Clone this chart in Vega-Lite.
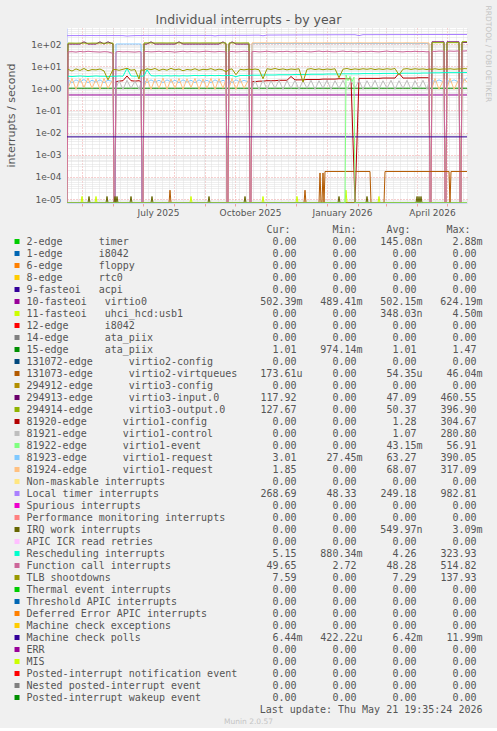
{
  "$schema": "https://vega.github.io/schema/vega-lite/v6.json",
  "background": "#f0f0f0",
  "padding": {"left": 5, "top": 5, "right": 5, "bottom": 0},
  "spacing": 6.5,
  "config": {
    "view": {"stroke": null},
    "axis": {"labelFont": "DejaVu Sans", "titleFont": "DejaVu Sans"},
    "text": {"font": "DejaVu Sans Mono", "fontSize": 10, "color": "#555555", "baseline": "middle"}
  },
  "datasets": {
    "main": [
      {"t":"2025-04-16","LOC":238,"i10":0.5,"i15":1.01,"MCP":0.0064,"CAL":0,"i294913":0,"i294914":0,"i81920":0,"i81921":0,"i81923":0,"i81924":0},
      {"t":"2025-04-17","LOC":238,"CAL":44,"TLB":7.2,"RES":3.5,"i294913":100,"i294914":110,"i81923":2.4,"i81924":1.0},
      {"t":"2025-04-21","LOC":241,"CAL":45,"TLB":6.0,"RES":3.4,"i294913":100,"i294914":110,"i81923":1.8,"i81924":2.8},
      {"t":"2025-04-25","LOC":240,"CAL":43,"TLB":7.5,"RES":3.5,"i294913":100,"i294914":109,"i81923":2.4,"i81924":0.9},
      {"t":"2025-04-29","LOC":242,"CAL":46,"TLB":6.4,"RES":3.6,"i294913":100,"i294914":110,"i81923":1.9,"i81924":2.7},
      {"t":"2025-05-03","LOC":239,"CAL":44,"TLB":7.8,"RES":3.5,"i294913":125,"i294914":110,"i81923":2.5,"i81924":1.1},
      {"t":"2025-05-07","LOC":241,"CAL":47,"TLB":6.2,"RES":3.4,"i294913":100,"i294914":108,"i81923":1.8,"i81924":2.9},
      {"t":"2025-05-11","LOC":243,"CAL":45,"TLB":7.0,"RES":3.5,"i294913":100,"i294914":110,"i81923":2.3,"i81924":1.0},
      {"t":"2025-05-15","LOC":240,"CAL":44,"TLB":6.8,"RES":3.6,"i294913":100,"i294914":110,"i81923":1.9,"i81924":2.6},
      {"t":"2025-05-19","LOC":242,"CAL":43,"TLB":7.4,"RES":3.5,"i294913":125,"i294914":110,"i81923":2.4,"i81924":0.9},
      {"t":"2025-05-23","LOC":241,"CAL":45,"TLB":6.1,"RES":3.5,"i294913":100,"i294914":109,"i81923":1.8,"i81924":2.8},
      {"t":"2025-05-27","LOC":240,"CAL":44,"TLB":2.4,"RES":3.4,"i294913":125,"i294914":110,"i81923":2.3,"i81924":1.0},
      {"t":"2025-06-01","LOC":242,"CAL":38,"TLB":7.0,"RES":3.5,"i294913":100,"i294914":110,"i81923":2.0,"i81924":2.5},
      {"t":"2025-06-02","CAL":0,"i294913":0,"i294914":0,"i81920":0,"i81921":0,"i81923":0,"i81924":0},
      {"t":"2025-06-03","CAL":0,"i294913":0,"i294914":0,"i81920":0,"i81921":0,"i81923":0,"i81924":0},
      {"t":"2025-06-04","LOC":240,"CAL":44,"TLB":7.0,"RES":3.5,"i81920":2.0,"i81921":1.0,"i81923":100},
      {"t":"2025-06-07","LOC":241,"CAL":46,"TLB":6.5,"RES":3.6,"i81920":2.1,"i81921":2.2,"i81923":100},
      {"t":"2025-06-11","LOC":240,"CAL":44,"TLB":7.2,"RES":3.5,"i81920":2.2,"i81921":0.9,"i81923":100},
      {"t":"2025-06-15","LOC":230,"CAL":45,"TLB":8.0,"RES":8.0,"i81920":3.6,"i81921":2.3,"i81923":100},
      {"t":"2025-06-19","LOC":236,"CAL":44,"TLB":6.6,"RES":3.6,"i81920":2.2,"i81921":1.0,"i81923":100},
      {"t":"2025-06-23","LOC":240,"CAL":43,"TLB":7.0,"RES":3.5,"i81920":2.1,"i81921":2.1,"i81923":100},
      {"t":"2025-06-27","LOC":241,"CAL":45,"TLB":2.6,"RES":3.6,"i81920":2.2,"i81921":0.9,"i81923":100},
      {"t":"2025-06-29","LOC":240,"CAL":44,"TLB":6.8,"RES":3.5,"i81920":2.0,"i81921":1.8,"i81923":100},
      {"t":"2025-06-30","CAL":0,"i294913":0,"i294914":0,"i81920":0,"i81921":0,"i81923":0,"i81924":0},
      {"t":"2025-07-01","CAL":0,"i294913":0,"i294914":0,"i81920":0,"i81921":0,"i81923":0,"i81924":0},
      {"t":"2025-07-02","LOC":244,"CAL":45,"TLB":6.5,"RES":3.6,"i294913":100,"i294914":112,"i81923":2.3,"i81924":1.0},
      {"t":"2025-07-05","LOC":245,"CAL":46,"TLB":7.6,"RES":6.8,"i294913":100,"i294914":112,"i81923":1.8,"i81924":2.8},
      {"t":"2025-07-09","LOC":243,"CAL":44,"TLB":6.9,"RES":3.7,"i294913":125,"i294914":112,"i81923":2.4,"i81924":0.9},
      {"t":"2025-07-13","LOC":246,"CAL":45,"TLB":7.8,"RES":3.6,"i294913":100,"i294914":111,"i81923":1.9,"i81924":2.7},
      {"t":"2025-07-17","LOC":244,"CAL":47,"TLB":6.4,"RES":3.7,"i294913":100,"i294914":112,"i81923":2.3,"i81924":1.0},
      {"t":"2025-07-21","LOC":245,"CAL":44,"TLB":7.3,"RES":3.6,"i294913":100,"i294914":112,"i81923":1.8,"i81924":2.9},
      {"t":"2025-07-25","LOC":243,"CAL":46,"TLB":6.6,"RES":3.7,"i294913":100,"i294914":111,"i81923":2.4,"i81924":0.9},
      {"t":"2025-07-29","LOC":245,"CAL":45,"TLB":7.9,"RES":3.6,"i294913":100,"i294914":112,"i81923":1.9,"i81924":2.6},
      {"t":"2025-08-02","LOC":246,"CAL":43,"TLB":6.8,"RES":3.7,"i294913":100,"i294914":112,"i81923":2.3,"i81924":1.0},
      {"t":"2025-08-06","LOC":244,"CAL":45,"TLB":7.4,"RES":3.6,"i294913":125,"i294914":112,"i81923":1.8,"i81924":2.8},
      {"t":"2025-08-10","LOC":245,"CAL":47,"TLB":6.2,"RES":3.7,"i294913":100,"i294914":111,"i81923":2.4,"i81924":0.9},
      {"t":"2025-08-14","LOC":246,"CAL":44,"TLB":7.1,"RES":3.6,"i294913":100,"i294914":112,"i81923":1.9,"i81924":2.7},
      {"t":"2025-08-18","LOC":244,"CAL":46,"TLB":6.7,"RES":3.7,"i294913":100,"i294914":112,"i81923":2.3,"i81924":1.1},
      {"t":"2025-08-22","LOC":245,"CAL":45,"TLB":7.6,"RES":3.8,"i294913":100,"i294914":112,"i81923":1.8,"i81924":2.8},
      {"t":"2025-08-26","LOC":246,"CAL":44,"TLB":6.5,"RES":3.7,"i294913":100,"i294914":111,"i81923":2.4,"i81924":0.9},
      {"t":"2025-08-30","LOC":245,"CAL":46,"TLB":7.2,"RES":3.8,"i294913":100,"i294914":112,"i81923":1.9,"i81924":2.6},
      {"t":"2025-09-03","LOC":244,"CAL":47,"TLB":6.9,"RES":3.7,"i294913":100,"i294914":112,"i81923":2.3,"i81924":1.0},
      {"t":"2025-09-07","LOC":246,"CAL":45,"TLB":7.7,"RES":3.8,"i294913":100,"i294914":112,"i81923":1.8,"i81924":2.8},
      {"t":"2025-09-11","LOC":232,"CAL":44,"TLB":6.6,"RES":3.7,"i294913":100,"i294914":111,"i81923":2.4,"i81924":0.9},
      {"t":"2025-09-15","LOC":245,"CAL":46,"TLB":7.3,"RES":3.8,"i294913":100,"i294914":112,"i81923":1.9,"i81924":2.7},
      {"t":"2025-09-19","LOC":246,"CAL":45,"TLB":6.8,"RES":3.7,"i294913":125,"i294914":112,"i81923":2.3,"i81924":1.0},
      {"t":"2025-09-22","LOC":245,"CAL":44,"TLB":5.5,"RES":3.8,"i294913":100,"i294914":112,"i81923":2.0,"i81924":2.5},
      {"t":"2025-09-23","CAL":0,"i294913":0,"i294914":0,"i81920":0,"i81921":0,"i81923":0,"i81924":0},
      {"t":"2025-09-24","CAL":0,"i294913":0,"i294914":0,"i81920":0,"i81921":0,"i81923":0,"i81924":0},
      {"t":"2025-09-25","LOC":247,"CAL":45,"TLB":7.0,"RES":3.8,"i294913":100,"i294914":112,"i81923":2.3,"i81924":1.0},
      {"t":"2025-09-28","LOC":248,"CAL":46,"TLB":7.5,"RES":3.8,"i294913":125,"i294914":112,"i81923":1.8,"i81924":2.8},
      {"t":"2025-10-02","LOC":247,"CAL":44,"TLB":4.1,"RES":3.3,"i294913":100,"i294914":112,"i81923":2.4,"i81924":0.9},
      {"t":"2025-10-06","LOC":248,"CAL":45,"TLB":7.2,"RES":3.8,"i294913":100,"i294914":111,"i81923":1.9,"i81924":2.7},
      {"t":"2025-10-10","LOC":247,"CAL":47,"TLB":6.8,"RES":3.8,"i294913":100,"i294914":112,"i81923":2.3,"i81924":1.0},
      {"t":"2025-10-15","LOC":248,"CAL":45,"TLB":7.3,"RES":3.8,"i294913":100,"i294914":112,"i81923":1.9,"i81924":2.6},
      {"t":"2025-10-16","CAL":0,"i294913":0,"i294914":0,"i81920":0,"i81921":0,"i81923":0,"i81924":0},
      {"t":"2025-10-17","CAL":0,"i294913":0,"i294914":0,"i81920":0,"i81921":0,"i81923":0,"i81924":0},
      {"t":"2025-10-18","LOC":250,"CAL":45,"TLB":7.0,"RES":3.9,"i81920":2.0,"i81921":1.0,"i81923":105,"i81924":112},
      {"t":"2025-10-21","LOC":251,"CAL":46,"TLB":7.4,"RES":3.9,"i81920":2.0,"i81921":2.2,"i81923":105,"i81924":112},
      {"t":"2025-10-25","LOC":252,"CAL":44,"TLB":6.9,"RES":3.9,"i81920":2.1,"i81921":0.9,"i81923":104,"i81924":112},
      {"t":"2025-10-29","LOC":236,"CAL":45,"TLB":2.7,"RES":4.0,"i81920":2.1,"i81921":2.3,"i81923":105,"i81924":113},
      {"t":"2025-11-02","LOC":253,"CAL":47,"TLB":7.6,"RES":4.0,"i81920":2.2,"i81921":0.9,"i81923":105,"i81924":112},
      {"t":"2025-11-06","LOC":254,"CAL":45,"TLB":7.1,"RES":4.0,"i81920":2.2,"i81921":2.2,"i81923":105,"i81924":112},
      {"t":"2025-11-10","LOC":254,"CAL":44,"TLB":7.8,"RES":4.0,"i81920":2.2,"i81921":1.0,"i81923":104,"i81924":112},
      {"t":"2025-11-14","LOC":255,"CAL":46,"TLB":7.0,"RES":4.1,"i81920":2.3,"i81921":2.3,"i81923":105,"i81924":113},
      {"t":"2025-11-18","LOC":255,"CAL":45,"TLB":7.5,"RES":4.1,"i81920":2.3,"i81921":0.9,"i81923":105,"i81924":112},
      {"t":"2025-11-22","LOC":256,"CAL":47,"TLB":6.8,"RES":4.1,"i81920":2.3,"i81921":2.2,"i81923":105,"i81924":112},
      {"t":"2025-11-26","LOC":256,"CAL":44,"TLB":7.4,"RES":4.1,"i81920":3.4,"i81921":1.0,"i81923":105,"i81924":112},
      {"t":"2025-11-30","LOC":257,"CAL":46,"TLB":7.1,"RES":4.2,"i81920":2.4,"i81921":2.3,"i81923":104,"i81924":113},
      {"t":"2025-12-04","LOC":257,"CAL":45,"TLB":7.6,"RES":4.2,"i81920":2.4,"i81921":0.9,"i81923":105,"i81924":112},
      {"t":"2025-12-08","LOC":258,"CAL":47,"TLB":1.9,"RES":4.2,"i81920":2.4,"i81921":2.2,"i81923":105,"i81924":112},
      {"t":"2025-12-12","LOC":258,"CAL":45,"TLB":7.2,"RES":4.2,"i81920":2.5,"i81921":1.0,"i81923":105,"i81924":112},
      {"t":"2025-12-16","LOC":259,"CAL":44,"TLB":7.7,"RES":4.3,"i81920":2.5,"i81921":2.3,"i81923":105,"i81924":113},
      {"t":"2025-12-20","LOC":259,"CAL":46,"TLB":7.0,"RES":4.3,"i81920":2.5,"i81921":0.9,"i81923":104,"i81924":112},
      {"t":"2025-12-24","LOC":260,"CAL":48,"TLB":7.5,"RES":4.3,"i81920":2.5,"i81921":2.2,"i81923":105,"i81924":112},
      {"t":"2025-12-28","LOC":260,"CAL":45,"TLB":6.9,"RES":4.3,"i81920":2.6,"i81921":1.0,"i81923":105,"i81924":112},
      {"t":"2026-01-01","LOC":261,"CAL":47,"TLB":7.4,"RES":4.4,"i81920":2.6,"i81921":2.3,"i81923":105,"i81924":113},
      {"t":"2026-01-05","LOC":261,"CAL":45,"TLB":7.1,"RES":4.4,"i81920":2.6,"i81921":0.9,"i81923":105,"i81924":112},
      {"t":"2026-01-09","LOC":262,"CAL":44,"TLB":7.6,"RES":4.4,"i81920":2.6,"i81921":2.2,"i81923":104,"i81924":112},
      {"t":"2026-01-13","LOC":262,"CAL":46,"TLB":3.0,"RES":4.4,"i81920":2.7,"i81921":1.0,"i81923":105,"i81924":112},
      {"t":"2026-01-17","LOC":262,"CAL":48,"TLB":7.3,"RES":4.5,"i81920":2.7,"i81921":2.3,"i81923":105,"i81924":113},
      {"t":"2026-01-21","LOC":263,"CAL":45,"TLB":7.8,"RES":4.5,"i81920":2.7,"i81921":0.9,"i81923":105,"i81924":112},
      {"t":"2026-01-25","LOC":263,"CAL":47,"TLB":7.0,"RES":4.5,"i81920":2.7,"i81921":2.2,"i81923":105,"i81924":112},
      {"t":"2026-01-29","LOC":263,"CAL":45,"TLB":7.5,"RES":4.5,"i81920":0,"i81921":1.0,"i81923":104,"i81924":112},
      {"t":"2026-02-02","LOC":240,"CAL":44,"TLB":7.1,"RES":4.5,"i81920":2.8,"i81921":2.3,"i81923":105,"i81924":113},
      {"t":"2026-02-06","LOC":264,"CAL":46,"TLB":7.6,"RES":4.6,"i81920":2.8,"i81921":0.9,"i81923":105,"i81924":112},
      {"t":"2026-02-10","LOC":264,"CAL":45,"TLB":7.2,"RES":4.6,"i81920":2.8,"i81921":2.2,"i81923":105,"i81924":112},
      {"t":"2026-02-14","LOC":264,"CAL":47,"TLB":7.7,"RES":4.6,"i81920":2.8,"i81921":1.0,"i81923":105,"i81924":112},
      {"t":"2026-02-18","LOC":265,"CAL":45,"TLB":7.0,"RES":4.6,"i81920":2.8,"i81921":2.3,"i81923":104,"i81924":113},
      {"t":"2026-02-22","LOC":265,"CAL":44,"TLB":7.5,"RES":4.6,"i81920":2.8,"i81921":0.9,"i81923":105,"i81924":112},
      {"t":"2026-02-26","LOC":265,"CAL":46,"TLB":7.1,"RES":4.7,"i81920":2.9,"i81921":2.2,"i81923":105,"i81924":112},
      {"t":"2026-03-02","LOC":265,"CAL":48,"TLB":7.6,"RES":4.7,"i81920":2.9,"i81921":1.0,"i81923":105,"i81924":112},
      {"t":"2026-03-06","LOC":266,"CAL":45,"TLB":7.2,"RES":4.7,"i81920":2.9,"i81921":2.3,"i81923":105,"i81924":113},
      {"t":"2026-03-10","LOC":266,"CAL":47,"TLB":7.8,"RES":4.7,"i81920":2.9,"i81921":0.9,"i81923":104,"i81924":112},
      {"t":"2026-03-14","LOC":266,"CAL":45,"TLB":4.0,"RES":4.7,"i81920":4.8,"i81921":2.2,"i81923":105,"i81924":112},
      {"t":"2026-03-18","LOC":266,"CAL":44,"TLB":7.3,"RES":4.8,"i81920":2.9,"i81921":1.0,"i81923":105,"i81924":112},
      {"t":"2026-03-22","LOC":267,"CAL":46,"TLB":7.7,"RES":4.8,"i81920":2.9,"i81921":2.3,"i81923":105,"i81924":113},
      {"t":"2026-03-26","LOC":267,"CAL":45,"TLB":7.1,"RES":4.8,"i81920":2.9,"i81921":0.9,"i81923":105,"i81924":112},
      {"t":"2026-03-30","LOC":267,"CAL":47,"TLB":7.6,"RES":4.8,"i81920":2.9,"i81921":2.2,"i81923":104,"i81924":112},
      {"t":"2026-04-03","LOC":267,"CAL":45,"TLB":7.2,"RES":4.8,"i81920":3.0,"i81921":1.0,"i81923":105,"i81924":112},
      {"t":"2026-04-07","LOC":268,"CAL":46,"TLB":7.5,"RES":4.9,"i81920":3.0,"i81921":2.3,"i81923":105,"i81924":113},
      {"t":"2026-04-11","LOC":268,"CAL":44,"TLB":7.0,"RES":4.9,"i81920":3.0,"i81921":0.9,"i81923":105,"i81924":112},
      {"t":"2026-04-13","LOC":268,"CAL":46,"TLB":7.4,"RES":4.9,"i81920":3.0,"i81921":2.0,"i81923":105,"i81924":112},
      {"t":"2026-04-14","CAL":0,"i294913":0,"i294914":0,"i81920":0,"i81921":0,"i81923":0,"i81924":0},
      {"t":"2026-04-15","CAL":0,"i294913":0,"i294914":0,"i81920":0,"i81921":0,"i81923":0,"i81924":0},
      {"t":"2026-04-16","LOC":268,"CAL":47,"TLB":7.2,"RES":5.0,"i294913":125,"i294914":115,"i81923":2.4,"i81924":1.0},
      {"t":"2026-04-19","LOC":268,"CAL":46,"TLB":7.6,"RES":5.0,"i294913":125,"i294914":115,"i81923":1.9,"i81924":2.8},
      {"t":"2026-04-23","LOC":268,"CAL":48,"TLB":7.1,"RES":5.0,"i294913":125,"i294914":115,"i81923":2.4,"i81924":0.9},
      {"t":"2026-04-28","LOC":268,"CAL":47,"TLB":7.5,"RES":5.1,"i294913":125,"i294914":115,"i81923":1.9,"i81924":2.6},
      {"t":"2026-04-29","CAL":0,"i294913":0,"i294914":0,"i81920":0,"i81921":0,"i81923":0,"i81924":0},
      {"t":"2026-04-30","CAL":0,"i294913":0,"i294914":0,"i81920":0,"i81921":0,"i81923":0,"i81924":0},
      {"t":"2026-05-01","LOC":268,"CAL":47,"TLB":7.3,"RES":5.1,"i294913":125,"i294914":115,"i81923":2.4,"i81924":1.0},
      {"t":"2026-05-04","LOC":269,"CAL":48,"TLB":7.6,"RES":5.1,"i294913":125,"i294914":115,"i81923":1.9,"i81924":2.8},
      {"t":"2026-05-08","LOC":269,"CAL":47,"TLB":7.2,"RES":5.1,"i294913":125,"i294914":115,"i81923":2.4,"i81924":0.9},
      {"t":"2026-05-13","LOC":269,"CAL":49,"TLB":7.5,"RES":5.1,"i294913":125,"i294914":115,"i81923":1.9,"i81924":2.6},
      {"t":"2026-05-14","CAL":0,"i294913":0,"i294914":0,"i81920":0,"i81921":0,"i81923":0,"i81924":0},
      {"t":"2026-05-15","CAL":0,"i294913":0,"i294914":0,"i81920":0,"i81921":0,"i81923":0,"i81924":0},
      {"t":"2026-05-16","LOC":269,"CAL":49,"TLB":7.4,"RES":5.1,"i294913":120,"i294914":126,"i81923":2.6,"i81924":1.2},
      {"t":"2026-05-18","LOC":269,"CAL":48,"TLB":7.7,"RES":5.2,"i294913":119,"i294914":127,"i81923":2.2,"i81924":2.7},
      {"t":"2026-05-21","LOC":269,"CAL":49.6,"TLB":7.6,"RES":5.15,"i10":0.5,"i15":1.01,"MCP":0.0064,"i294913":118,"i294914":128,"i81923":3.0,"i81924":1.85}
    ],
    "sparse": [
      {"id":"i11","t":"2025-04-16","v":0},
      {"id":"i11","t":"2025-04-30","v":0},{"id":"i11","t":"2025-05-01","v":1.3e-5},{"id":"i11","t":"2025-05-02","v":0},
      {"id":"i11","t":"2025-05-14","v":0},{"id":"i11","t":"2025-05-15","v":1.3e-5},{"id":"i11","t":"2025-05-16","v":0},
      {"id":"i11","t":"2025-08-17","v":0},{"id":"i11","t":"2025-08-18","v":1.3e-5},{"id":"i11","t":"2025-08-19","v":0},
      {"id":"i11","t":"2025-10-28","v":0},{"id":"i11","t":"2025-10-29","v":1.3e-5},{"id":"i11","t":"2025-10-30","v":0},
      {"id":"i11","t":"2025-12-01","v":0},{"id":"i11","t":"2025-12-02","v":1.3e-5},{"id":"i11","t":"2025-12-03","v":0},
      {"id":"i11","t":"2026-01-19","v":0},{"id":"i11","t":"2026-01-20","v":2.5e-5},{"id":"i11","t":"2026-01-21","v":0},
      {"id":"i11","t":"2026-02-21","v":0},{"id":"i11","t":"2026-02-22","v":1.3e-5},{"id":"i11","t":"2026-02-23","v":0},
      {"id":"i11","t":"2026-05-21","v":0},
      {"id":"i131073","t":"2025-04-16","v":0},
      {"id":"i131073","t":"2025-07-27","v":0},{"id":"i131073","t":"2025-07-28","v":2.5e-5},{"id":"i131073","t":"2025-07-29","v":0},
      {"id":"i131073","t":"2025-12-09","v":0},{"id":"i131073","t":"2025-12-10","v":2.5e-5},{"id":"i131073","t":"2025-12-11","v":0},
      {"id":"i131073","t":"2025-12-24","v":0},{"id":"i131073","t":"2025-12-25","v":1.5e-4},{"id":"i131073","t":"2025-12-26","v":0},
      {"id":"i131073","t":"2025-12-27","v":0},{"id":"i131073","t":"2025-12-28","v":1.5e-4},{"id":"i131073","t":"2025-12-29","v":0},
      {"id":"i131073","t":"2025-12-30","v":1.75e-4},{"id":"i131073","t":"2026-02-13","v":1.75e-4},{"id":"i131073","t":"2026-02-14","v":0},
      {"id":"i131073","t":"2026-02-27","v":0},{"id":"i131073","t":"2026-02-28","v":1.75e-4},{"id":"i131073","t":"2026-05-03","v":1.75e-4},
      {"id":"i131073","t":"2026-05-04","v":0},{"id":"i131073","t":"2026-05-05","v":1.75e-4},{"id":"i131073","t":"2026-05-21","v":1.75e-4},
      {"id":"IWI","t":"2025-04-16","v":0},
      {"id":"IWI","t":"2025-05-07","v":0},{"id":"IWI","t":"2025-05-08","v":1.3e-5},{"id":"IWI","t":"2025-05-09","v":0},
      {"id":"IWI","t":"2025-05-25","v":0},{"id":"IWI","t":"2025-05-26","v":1.3e-5},{"id":"IWI","t":"2025-05-27","v":0},
      {"id":"IWI","t":"2025-06-02","v":0},{"id":"IWI","t":"2025-06-03","v":1.3e-5},{"id":"IWI","t":"2025-06-04","v":0},
      {"id":"IWI","t":"2025-06-05","v":1.3e-5},{"id":"IWI","t":"2025-06-06","v":0},
      {"id":"IWI","t":"2025-06-18","v":0},{"id":"IWI","t":"2025-06-19","v":1.3e-5},{"id":"IWI","t":"2025-06-20","v":0},
      {"id":"IWI","t":"2025-07-09","v":0},{"id":"IWI","t":"2025-07-10","v":1.3e-5},{"id":"IWI","t":"2025-07-11","v":0},
      {"id":"IWI","t":"2025-09-04","v":0},{"id":"IWI","t":"2025-09-05","v":1.3e-5},{"id":"IWI","t":"2025-09-06","v":0},
      {"id":"IWI","t":"2025-10-10","v":0},{"id":"IWI","t":"2025-10-11","v":1.3e-5},{"id":"IWI","t":"2025-10-12","v":0},
      {"id":"IWI","t":"2026-01-12","v":0},{"id":"IWI","t":"2026-01-13","v":1.3e-5},{"id":"IWI","t":"2026-01-14","v":0},
      {"id":"IWI","t":"2026-02-09","v":0},{"id":"IWI","t":"2026-02-10","v":1.3e-5},{"id":"IWI","t":"2026-02-11","v":0},
      {"id":"IWI","t":"2026-03-31","v":0},{"id":"IWI","t":"2026-04-01","v":1.3e-5},{"id":"IWI","t":"2026-04-02","v":0},
      {"id":"IWI","t":"2026-04-03","v":1.3e-5},{"id":"IWI","t":"2026-04-04","v":0},{"id":"IWI","t":"2026-04-05","v":1.3e-5},
      {"id":"IWI","t":"2026-04-06","v":0},{"id":"IWI","t":"2026-05-21","v":0},
      {"id":"i81922","t":"2025-04-16","v":0},{"id":"i81922","t":"2026-01-19","v":0},{"id":"i81922","t":"2026-01-20","v":4.0},
      {"id":"i81922","t":"2026-01-22","v":2.2},{"id":"i81922","t":"2026-01-24","v":3.5},{"id":"i81922","t":"2026-01-26","v":2.0},
      {"id":"i81922","t":"2026-01-28","v":3.2},{"id":"i81922","t":"2026-01-29","v":0},{"id":"i81922","t":"2026-05-21","v":0}
    ],
    "legend": [
      {"id":"i2","label":"2-edge\u00a0\u00a0\u00a0\u00a0\u00a0\u00a0timer","cur":"0.00","min":"0.00","avg":"145.08n","max":"2.88m"},
      {"id":"i1","label":"1-edge\u00a0\u00a0\u00a0\u00a0\u00a0\u00a0i8042","cur":"0.00","min":"0.00","avg":"0.00","max":"0.00"},
      {"id":"i6","label":"6-edge\u00a0\u00a0\u00a0\u00a0\u00a0\u00a0floppy","cur":"0.00","min":"0.00","avg":"0.00","max":"0.00"},
      {"id":"i8","label":"8-edge\u00a0\u00a0\u00a0\u00a0\u00a0\u00a0rtc0","cur":"0.00","min":"0.00","avg":"0.00","max":"0.00"},
      {"id":"i9","label":"9-fasteoi\u00a0\u00a0\u00a0acpi","cur":"0.00","min":"0.00","avg":"0.00","max":"0.00"},
      {"id":"i10","label":"10-fasteoi\u00a0\u00a0\u00a0virtio0","cur":"502.39m","min":"489.41m","avg":"502.15m","max":"624.19m"},
      {"id":"i11","label":"11-fasteoi\u00a0\u00a0\u00a0uhci_hcd:usb1","cur":"0.00","min":"0.00","avg":"348.03n","max":"4.50m"},
      {"id":"i12","label":"12-edge\u00a0\u00a0\u00a0\u00a0\u00a0\u00a0i8042","cur":"0.00","min":"0.00","avg":"0.00","max":"0.00"},
      {"id":"i14","label":"14-edge\u00a0\u00a0\u00a0\u00a0\u00a0\u00a0ata_piix","cur":"0.00","min":"0.00","avg":"0.00","max":"0.00"},
      {"id":"i15","label":"15-edge\u00a0\u00a0\u00a0\u00a0\u00a0\u00a0ata_piix","cur":"1.01","min":"974.14m","avg":"1.01","max":"1.47"},
      {"id":"i131072","label":"131072-edge\u00a0\u00a0\u00a0\u00a0\u00a0\u00a0virtio2-config","cur":"0.00","min":"0.00","avg":"0.00","max":"0.00"},
      {"id":"i131073","label":"131073-edge\u00a0\u00a0\u00a0\u00a0\u00a0\u00a0virtio2-virtqueues","cur":"173.61u","min":"0.00","avg":"54.35u","max":"46.04m"},
      {"id":"i294912","label":"294912-edge\u00a0\u00a0\u00a0\u00a0\u00a0\u00a0virtio3-config","cur":"0.00","min":"0.00","avg":"0.00","max":"0.00"},
      {"id":"i294913","label":"294913-edge\u00a0\u00a0\u00a0\u00a0\u00a0\u00a0virtio3-input.0","cur":"117.92","min":"0.00","avg":"47.09","max":"460.55"},
      {"id":"i294914","label":"294914-edge\u00a0\u00a0\u00a0\u00a0\u00a0\u00a0virtio3-output.0","cur":"127.67","min":"0.00","avg":"50.37","max":"396.90"},
      {"id":"i81920","label":"81920-edge\u00a0\u00a0\u00a0\u00a0\u00a0\u00a0virtio1-config","cur":"0.00","min":"0.00","avg":"1.28","max":"304.67"},
      {"id":"i81921","label":"81921-edge\u00a0\u00a0\u00a0\u00a0\u00a0\u00a0virtio1-control","cur":"0.00","min":"0.00","avg":"1.07","max":"280.80"},
      {"id":"i81922","label":"81922-edge\u00a0\u00a0\u00a0\u00a0\u00a0\u00a0virtio1-event","cur":"0.00","min":"0.00","avg":"43.15m","max":"56.91"},
      {"id":"i81923","label":"81923-edge\u00a0\u00a0\u00a0\u00a0\u00a0\u00a0virtio1-request","cur":"3.01","min":"27.45m","avg":"63.27","max":"390.05"},
      {"id":"i81924","label":"81924-edge\u00a0\u00a0\u00a0\u00a0\u00a0\u00a0virtio1-request","cur":"1.85","min":"0.00","avg":"68.07","max":"317.09"},
      {"id":"NMI","label":"Non-maskable interrupts","cur":"0.00","min":"0.00","avg":"0.00","max":"0.00"},
      {"id":"LOC","label":"Local timer interrupts","cur":"268.69","min":"48.33","avg":"249.18","max":"982.81"},
      {"id":"SPU","label":"Spurious interrupts","cur":"0.00","min":"0.00","avg":"0.00","max":"0.00"},
      {"id":"PMI","label":"Performance monitoring interrupts","cur":"0.00","min":"0.00","avg":"0.00","max":"0.00"},
      {"id":"IWI","label":"IRQ work interrupts","cur":"0.00","min":"0.00","avg":"549.97n","max":"3.09m"},
      {"id":"RTR","label":"APIC ICR read retries","cur":"0.00","min":"0.00","avg":"0.00","max":"0.00"},
      {"id":"RES","label":"Rescheduling interrupts","cur":"5.15","min":"880.34m","avg":"4.26","max":"323.93"},
      {"id":"CAL","label":"Function call interrupts","cur":"49.65","min":"2.72","avg":"48.28","max":"514.82"},
      {"id":"TLB","label":"TLB shootdowns","cur":"7.59","min":"0.00","avg":"7.29","max":"137.93"},
      {"id":"TRM","label":"Thermal event interrupts","cur":"0.00","min":"0.00","avg":"0.00","max":"0.00"},
      {"id":"THR","label":"Threshold APIC interrupts","cur":"0.00","min":"0.00","avg":"0.00","max":"0.00"},
      {"id":"DFR","label":"Deferred Error APIC interrupts","cur":"0.00","min":"0.00","avg":"0.00","max":"0.00"},
      {"id":"MCE","label":"Machine check exceptions","cur":"0.00","min":"0.00","avg":"0.00","max":"0.00"},
      {"id":"MCP","label":"Machine check polls","cur":"6.44m","min":"422.22u","avg":"6.42m","max":"11.99m"},
      {"id":"ERR","label":"ERR","cur":"0.00","min":"0.00","avg":"0.00","max":"0.00"},
      {"id":"MIS","label":"MIS","cur":"0.00","min":"0.00","avg":"0.00","max":"0.00"},
      {"id":"PIN","label":"Posted-interrupt notification event","cur":"0.00","min":"0.00","avg":"0.00","max":"0.00"},
      {"id":"NPI","label":"Nested posted-interrupt event","cur":"0.00","min":"0.00","avg":"0.00","max":"0.00"},
      {"id":"PIW","label":"Posted-interrupt wakeup event","cur":"0.00","min":"0.00","avg":"0.00","max":"0.00"}
    ]
  },
  "vconcat": [
    {
      "width": 400,
      "height": 175,
      "view": {"fill": "#ffffff"},
      "layer": [
        {
          "data": {"name": "main"},
          "transform": [
            {"fold": ["i10","i15","i294913","i294914","i81920","i81921","i81923","i81924","LOC","RES","CAL","TLB","MCP"], "as": ["id","v"]},
            {"filter": "isValid(datum.v)"}
          ],
          "mark": {"type": "line", "strokeWidth": 1, "clip": true},
          "encoding": {
            "x": {
              "field": "t", "type": "temporal",
              "scale": {"type": "utc", "domain": [{"year": 2025, "month": 4, "date": 16, "utc": true}, {"year": 2026, "month": 5, "date": 21, "utc": true}], "nice": false},
              "axis": {
                "orient": "bottom", "tickCount": {"interval": "month", "step": 1},
                "grid": true, "gridColor": "#eea0a0", "gridDash": [1, 2],
                "ticks": true, "tickColor": "#eea0a0", "tickSize": 3,
                "domain": true, "domainColor": "#cfd6f8",
                "labelExpr": "utcmonth(datum.value) % 3 == 0 ? utcFormat(datum.value, '%B %Y') : ''",
                "labelOffset": 15, "labelPadding": 2, "labelFontSize": 9, "labelColor": "#555555",
                "labelOverlap": false, "labelFlush": false, "labelBound": false, "title": null
              }
            },
            "y": {
              "field": "v", "type": "quantitative",
              "scale": {"type": "log", "domain": [6.6e-6, 528], "nice": false, "clamp": true},
              "axis": {
                "orient": "left", "values": [1e-5, 1e-4, 1e-3, 1e-2, 1e-1, 1, 10, 100],
                "labelExpr": "'1e' + (datum.value >= 1 ? '+' : '-') + '0' + abs(round(log(datum.value) / LN10))",
                "grid": true, "gridColor": "#eea0a0", "gridDash": [1, 2],
                "ticks": false, "domain": true, "domainColor": "#cfd6f8",
                "labelFontSize": 9, "labelColor": "#555555", "labelPadding": 6,
                "title": "interrupts / second", "titleFontSize": 11, "titleFontWeight": "normal", "titleColor": "#555555",
                "titleX": -56, "titleY": 87, "titleBaseline": "middle", "titleAlign": "center", "titleAngle": 270
              }
            },
            "color": {
              "field": "id", "type": "nominal", "legend": null,
              "scale": {
                "domain": ["i2","i1","i6","i8","i9","i10","i11","i12","i14","i15","i131072","i131073","i294912","i294913","i294914","i81920","i81921","i81922","i81923","i81924","NMI","LOC","SPU","PMI","IWI","RTR","RES","CAL","TLB","TRM","THR","DFR","MCE","MCP","ERR","MIS","PIN","NPI","PIW"],
                "range": ["#00CC00","#0066B3","#FF8000","#FFCC00","#330099","#990099","#CCFF00","#FF0000","#808080","#008F00","#00487D","#B35A00","#B38F00","#6B006B","#8FB300","#B30000","#BEBEBE","#80FF80","#80C9FF","#FFC080","#FFE680","#AA80FF","#EE00CC","#FF8080","#666600","#FFBFFF","#00FFCC","#CC6699","#999900","#00CC00","#0066B3","#FF8000","#FFCC00","#330099","#990099","#CCFF00","#FF0000","#808080","#008F00"]
              }
            }
          }
        },
        {
          "data": {"name": "sparse"},
          "mark": {"type": "line", "strokeWidth": 1, "clip": true},
          "encoding": {
            "x": {
              "field": "t", "type": "temporal",
              "axis": {
                "orient": "top", "tickCount": {"interval": "week", "step": 1},
                "grid": true, "gridColor": "#dedede", "gridDash": [1, 1],
                "labels": false, "ticks": false, "domain": false,
                "title": "Individual interrupts - by year", "titleFontSize": 12.5, "titleFontWeight": "normal", "titleColor": "#555555",
                "titleX": 181, "titleY": -9, "titleAlign": "center", "titleBaseline": "middle", "titleAngle": 0
              }
            },
            "y": {
              "field": "v", "type": "quantitative",
              "axis": {
                "orient": "right",
                "values": [7e-6, 8e-6, 9e-6, 2e-5, 3e-5, 4e-5, 5e-5, 6e-5, 7e-5, 8e-5, 9e-5, 2e-4, 3e-4, 4e-4, 5e-4, 6e-4, 7e-4, 8e-4, 9e-4, 2e-3, 3e-3, 4e-3, 5e-3, 6e-3, 7e-3, 8e-3, 9e-3, 0.02, 0.03, 0.04, 0.05, 0.06, 0.07, 0.08, 0.09, 0.2, 0.3, 0.4, 0.5, 0.6, 0.7, 0.8, 0.9, 2, 3, 4, 5, 6, 7, 8, 9, 20, 30, 40, 50, 60, 70, 80, 90, 200, 300, 400, 500],
                "grid": true, "gridColor": "#dedede", "gridDash": [1, 1],
                "labels": false, "ticks": false, "domain": false,
                "title": "RRDTOOL / TOBI OETIKER", "titleFontSize": 7.5, "titleFontWeight": "normal", "titleColor": "#c4c4c4",
                "titleAngle": 90, "titleX": 20.5, "titleY": 25.3, "titleAlign": "center", "titleBaseline": "middle"
              }
            },
            "color": {"field": "id", "type": "nominal", "legend": null}
          }
        }
      ],
      "resolve": {"axis": {"x": "independent", "y": "independent"}}
    },
    {
      "width": 428,
      "height": 504,
      "data": {"name": "legend"},
      "encoding": {
        "y": {
          "field": "id", "type": "nominal", "axis": null,
          "scale": {
            "type": "point", "padding": 0.5,
            "domain": ["hdr","i2","i1","i6","i8","i9","i10","i11","i12","i14","i15","i131072","i131073","i294912","i294913","i294914","i81920","i81921","i81922","i81923","i81924","NMI","LOC","SPU","PMI","IWI","RTR","RES","CAL","TLB","TRM","THR","DFR","MCE","MCP","ERR","MIS","PIN","NPI","PIW","upd","ftr"]
          }
        }
      },
      "layer": [
        {
          "mark": {"type": "square", "size": 25, "opacity": 1},
          "encoding": {
            "x": {"datum": 0.42, "type": "quantitative", "axis": null, "scale": {"domain": [0, 80], "range": [-52.5, 427.5], "nice": false, "zero": false}},
            "color": {
              "field": "id", "type": "nominal", "legend": null,
              "scale": {
                "domain": ["i2","i1","i6","i8","i9","i10","i11","i12","i14","i15","i131072","i131073","i294912","i294913","i294914","i81920","i81921","i81922","i81923","i81924","NMI","LOC","SPU","PMI","IWI","RTR","RES","CAL","TLB","TRM","THR","DFR","MCE","MCP","ERR","MIS","PIN","NPI","PIW"],
                "range": ["#00CC00","#0066B3","#FF8000","#FFCC00","#330099","#990099","#CCFF00","#FF0000","#808080","#008F00","#00487D","#B35A00","#B38F00","#6B006B","#8FB300","#B30000","#BEBEBE","#80FF80","#80C9FF","#FFC080","#FFE680","#AA80FF","#EE00CC","#FF8080","#666600","#FFBFFF","#00FFCC","#CC6699","#999900","#00CC00","#0066B3","#FF8000","#FFCC00","#330099","#990099","#CCFF00","#FF0000","#808080","#008F00"]
              }
            }
          }
        },
        {"mark": {"type": "text", "align": "left"}, "encoding": {"x": {"datum": 2, "type": "quantitative"}, "text": {"field": "label"}}},
        {"transform": [{"filter": "test(/[a-z]$/, datum.cur)"}], "mark": {"type": "text", "align": "right"}, "encoding": {"x": {"datum": 48, "type": "quantitative"}, "text": {"field": "cur"}}},
        {"transform": [{"filter": "!test(/[a-z]$/, datum.cur)"}], "mark": {"type": "text", "align": "right"}, "encoding": {"x": {"datum": 47, "type": "quantitative"}, "text": {"field": "cur"}}},
        {"transform": [{"filter": "test(/[a-z]$/, datum.min)"}], "mark": {"type": "text", "align": "right"}, "encoding": {"x": {"datum": 58, "type": "quantitative"}, "text": {"field": "min"}}},
        {"transform": [{"filter": "!test(/[a-z]$/, datum.min)"}], "mark": {"type": "text", "align": "right"}, "encoding": {"x": {"datum": 57, "type": "quantitative"}, "text": {"field": "min"}}},
        {"transform": [{"filter": "test(/[a-z]$/, datum.avg)"}], "mark": {"type": "text", "align": "right"}, "encoding": {"x": {"datum": 68, "type": "quantitative"}, "text": {"field": "avg"}}},
        {"transform": [{"filter": "!test(/[a-z]$/, datum.avg)"}], "mark": {"type": "text", "align": "right"}, "encoding": {"x": {"datum": 67, "type": "quantitative"}, "text": {"field": "avg"}}},
        {"transform": [{"filter": "test(/[a-z]$/, datum.max)"}], "mark": {"type": "text", "align": "right"}, "encoding": {"x": {"datum": 78, "type": "quantitative"}, "text": {"field": "max"}}},
        {"transform": [{"filter": "!test(/[a-z]$/, datum.max)"}], "mark": {"type": "text", "align": "right"}, "encoding": {"x": {"datum": 77, "type": "quantitative"}, "text": {"field": "max"}}},
        {"data": {"values": [{}]}, "mark": {"type": "text", "align": "right"}, "encoding": {"x": {"datum": 46, "type": "quantitative"}, "y": {"datum": "hdr", "type": "nominal"}, "text": {"value": "Cur:"}}},
        {"data": {"values": [{}]}, "mark": {"type": "text", "align": "right"}, "encoding": {"x": {"datum": 57, "type": "quantitative"}, "y": {"datum": "hdr", "type": "nominal"}, "text": {"value": "Min:"}}},
        {"data": {"values": [{}]}, "mark": {"type": "text", "align": "right"}, "encoding": {"x": {"datum": 66, "type": "quantitative"}, "y": {"datum": "hdr", "type": "nominal"}, "text": {"value": "Avg:"}}},
        {"data": {"values": [{}]}, "mark": {"type": "text", "align": "right"}, "encoding": {"x": {"datum": 76, "type": "quantitative"}, "y": {"datum": "hdr", "type": "nominal"}, "text": {"value": "Max:"}}},
        {"data": {"values": [{}]}, "mark": {"type": "text", "align": "right"}, "encoding": {"x": {"datum": 78, "type": "quantitative"}, "y": {"datum": "upd", "type": "nominal"}, "text": {"value": "Last update: Thu May 21 19:35:24 2026"}}},
        {"data": {"values": [{}]}, "mark": {"type": "text", "align": "center", "font": "DejaVu Sans", "fontSize": 7.5, "color": "#c4c4c4"}, "encoding": {"x": {"datum": 39, "type": "quantitative"}, "y": {"datum": "ftr", "type": "nominal"}, "text": {"value": "Munin 2.0.57"}}}
      ]
    }
  ]
}
